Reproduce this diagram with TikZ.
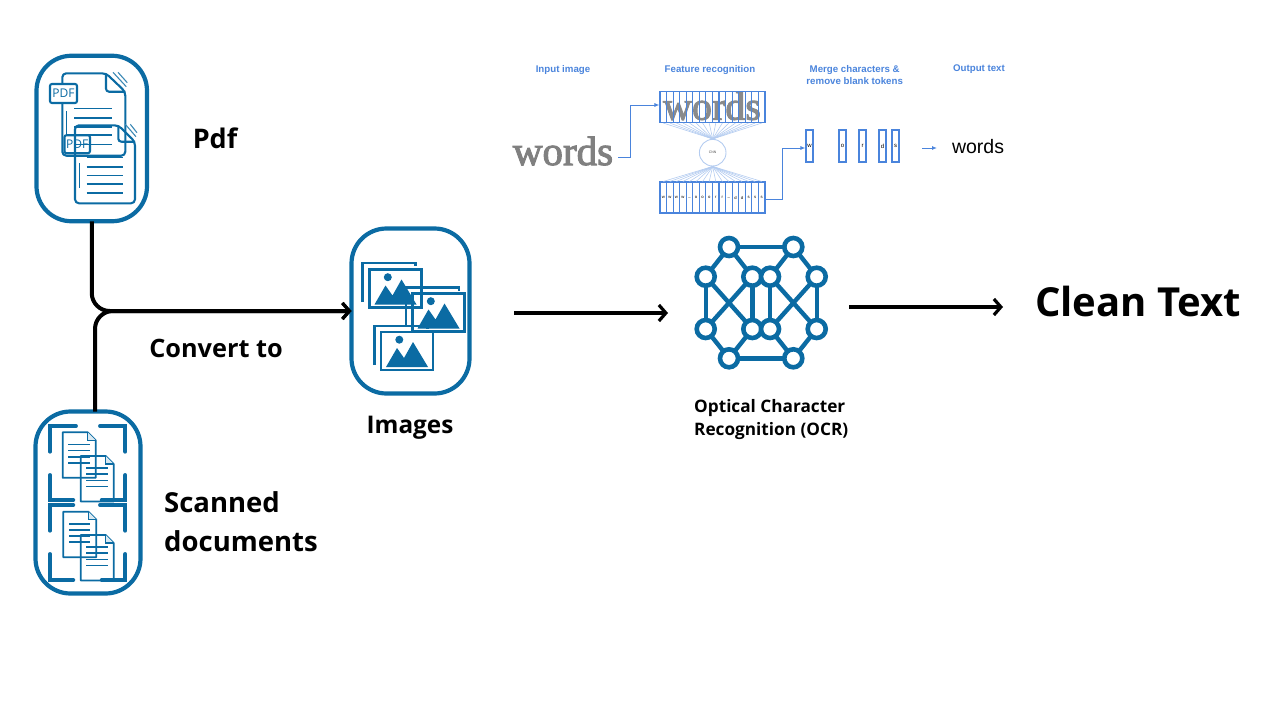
\documentclass[tikz,border=0pt]{standalone}
\usepackage{fontspec}
\setmainfont{Open Sans}
\newfontfamily\arialf{Liberation Sans}
\newfontfamily\blurf[FakeBold=2.4]{Liberation Serif}
\usetikzlibrary{arrows.meta}
\definecolor{iconblue}{HTML}{0B6BA3}
\definecolor{ocrblue}{HTML}{4A84DC}
\definecolor{fanblue}{HTML}{B4CCF0}
\tikzset{
  holder/.style={draw=iconblue,line width=4.2pt,rounded corners=35pt,inner sep=0pt,outer sep=0pt},
  conn/.style={draw=black,line width=4pt,rounded corners=18pt,-{Straight Barb[length=7pt,width=16pt,line width=3.2pt]}},
  thin icon/.style={draw=iconblue,line width=2.1pt,line join=round},
  bracket/.style={draw=iconblue,line width=3.9pt,line cap=round},
  photo/.style={draw=iconblue,line width=2.8pt},
  mesh dot/.style={circle,draw=iconblue,fill=white,line width=4.6pt,minimum size=18pt,inner sep=0pt},
  mesh edge/.style={draw=iconblue,line width=4.4pt},
  lab/.style={font=\bfseries,inner sep=0pt,text=black},
  flowhead/.style={font=\arialf\bfseries\fontsize{9.7}{12}\selectfont,text=ocrblue,inner sep=0pt,align=center},
  cell/.style={draw=ocrblue,line width=1.1pt,inner sep=0pt,minimum width=6.56pt,minimum height=31pt,font=\arialf\fontsize{4.2}{5}\selectfont},
  slot/.style={draw=ocrblue,line width=1.1pt,inner sep=0pt,minimum width=7pt,minimum height=32pt,font=\arialf\fontsize{6}{7}\selectfont},
  flow/.style={draw=ocrblue,line width=.9pt,-{Latex[length=5pt,width=4pt]}},
  fan/.style={draw=fanblue,line width=.6pt},
}
\newcommand{\pdfdoc}[9]{% left top right bottom foldx foldy linesx0 linesx1 tickx
  \draw[thin icon,rounded corners=4pt] (#5,#2) -- (#1,#2) -- (#1,#4) -- (#3,#4) -- (#3,#6) -- cycle;
  \draw[thin icon,rounded corners=3pt] (#5,#2) -- (#5,#6) -- (#3,#6);
  \draw[iconblue!80,line width=1.1pt] (#5+7,#2-1) -- (#3+1,#6-5);
  \draw[iconblue!80,line width=1.1pt] (#5+12,#2-1) -- (#3+2,#6-9);
  \draw[iconblue,line width=1.5pt] (#9,#2+38) -- (#9,#2+63);
}
\newcommand{\scandoc}[2]{%
  \draw[iconblue,line width=1.8pt,line join=round] (#1+25,#2) -- (#1,#2) -- (#1,#2+45.5) -- (#1+33,#2+45.5) -- (#1+33,#2+8) -- cycle;
  \draw[iconblue,line width=1.4pt,fill=iconblue!15] (#1+25,#2) -- (#1+25,#2+8) -- (#1+33,#2+8);
  \foreach \ly in {12,18,24.5,30.5} \draw[iconblue,line width=1.6pt] (#1+5.7,#2+\ly) -- (#1+27,#2+\ly);
}
\newcommand{\photoicon}[4]{%
  \draw[photo] (#3,#4+39) -- (#3,#4) -- (#3+53,#4) -- (#3+53,#4+3);
  \draw[photo] (#1,#2) rectangle (#1+52,#2+38);
  \fill[iconblue] (#1+5,#2+35) -- (#1+16,#2+16) -- (#1+23,#2+26) -- (#1+32,#2+10) -- (#1+47,#2+35) -- cycle;
  \fill[iconblue] (#1+18.3,#2+7.7) circle (4pt);
}
\begin{document}
\begin{tikzpicture}[x=1pt,y=-1pt]
\useasboundingbox (0,0) rectangle (1282,720);

% holders
\node[holder,minimum width=110.5pt,minimum height=165.5pt] (pdfbox) at (91.75,138.5) {};
\node[holder,minimum width=105pt,minimum height=182pt] (scanbox) at (88,502.5) {};
\node[holder,minimum width=118pt,minimum height=165pt] (imgbox) at (410.5,311) {};

% connectors
\draw[conn] (pdfbox.south) |- (imgbox.west);
\draw[conn] ([xshift=7pt]scanbox.north) |- (imgbox.west);
\coordinate (midstart) at (514,313);
\coordinate (midend) at (668,313);
\coordinate (laststart) at (849,307);
\coordinate (lastend) at (1003,307);
\draw[conn] (midstart) -- (midend);
\draw[conn] (laststart) -- (lastend);

% pdf icon
\pdfdoc{62.3}{73.3}{125.3}{155.7}{106}{91.7}{74}{112}{66.7}
\foreach \ly in {108.3,117.7,126.7,135,144.3} \draw[iconblue,line width=1.6pt] (74,\ly) -- (112.3,\ly);
\node[draw=iconblue,fill=white,line width=2.1pt,rounded corners=2pt,minimum width=27pt,minimum height=19pt,inner sep=0pt,text=iconblue,font=\fontsize{12}{14}\selectfont] (pdfa) at (63.5,93.5) {PDF};
\pdfdoc{75}{125.3}{135}{203.3}{118.3}{141.7}{86.7}{123.3}{79.3}
\foreach \ly in {157.3,166.7,175.3,184,192.7} \draw[iconblue,line width=1.6pt] (86.7,\ly) -- (123.3,\ly);
\node[draw=iconblue,line width=2.1pt,rounded corners=2pt,minimum width=25.5pt,minimum height=18pt,inner sep=0pt,text=iconblue,font=\fontsize{12}{14}\selectfont] (pdfb) at (77.2,144.2) {PDF};

% scan icon
\draw[bracket] (50,451.7) -- (50,426) -- (76,426);
\draw[bracket] (100,426) -- (125.3,426) -- (125.3,451.7);
\draw[bracket] (50,475) -- (50,500) -- (73.3,500);
\draw[bracket] (101.7,500) -- (125.3,500) -- (125.3,475);
\draw[bracket] (50,530.7) -- (50,505) -- (73.3,505);
\draw[bracket] (100,505) -- (125.3,505) -- (125.3,530.7);
\draw[bracket] (50,554) -- (50,580) -- (73.3,580);
\draw[bracket] (101.7,580) -- (125.3,580) -- (125.3,554);
\scandoc{62.7}{432.3}
\scandoc{80.7}{456}
\scandoc{63.3}{511.7}
\scandoc{80.7}{535}

% images icon
\photoicon{369.5}{269.5}{362.5}{263}
\photoicon{412.5}{293.5}{406}{287.5}
\photoicon{381}{332}{374.5}{326}

% ocr mesh
\foreach \nm/\px/\py in {ta/729/247,tb/793.3/247,la/705.7/276.7,ia/752.3/276.7,ib/770/276.7,ra/816.7/276.7,lb/705.7/329,ic/752.3/329,id/770/329,rb/816.7/329,ba/729/358.3,bb/793.3/358.3}
  \coordinate (c\nm) at (\px,\py);
\foreach \u/\v in {ta/tb,ta/la,ta/ia,tb/ib,tb/ra,la/lb,ia/ic,ib/id,ra/rb,la/ic,lb/ia,ib/rb,id/ra,lb/ba,ic/ba,id/bb,rb/bb,ba/bb}
  \draw[mesh edge] (c\u) -- (c\v);
\foreach \nm in {ta,tb,la,ia,ib,ra,lb,ic,id,rb,ba,bb}
  \node[mesh dot] (n\nm) at (c\nm) {};

% labels
\node[lab,font=\bfseries\fontsize{27}{32}\selectfont] (lpdf) at (215,138) {Pdf};
\node[lab,font=\bfseries\fontsize{27.5}{39}\selectfont,align=left,anchor=west] (lscan) at (164,521.5) {Scanned\\documents};
\node[lab,font=\bfseries\fontsize{25.3}{30}\selectfont] (lconv) at (216,348) {Convert to};
\node[lab,font=\bfseries\fontsize{24.3}{30}\selectfont] (limg) at (410,427.5) {Images};
\node[lab,font=\bfseries\fontsize{17.2}{23}\selectfont,align=left,anchor=west] (locr) at (694,419.5) {Optical Character\\Recognition (OCR)};
\node[lab,font=\bfseries\fontsize{40}{46}\selectfont] (lclean) at (1138,301) {Clean Text};

% CTC flow
\node[flowhead] (h1) at (563,70.5) {Input image};
\node[flowhead] (h2) at (710,70.5) {Feature recognition};
\node[flowhead] (h3) at (854.7,75) {Merge characters \&\\remove blank tokens};
\node[flowhead] (h4) at (979,69) {Output text};

\node[inner sep=0pt,text=black!50,font=\blurf\fontsize{41}{44}\selectfont] (wordsin) at (563,151) {words};
\node[inner sep=0pt,text=black!46,font=\blurf\fontsize{40}{44}\selectfont] (wordsfeat) at (712,106) {words};

\node[circle,draw=fanblue,line width=.9pt,minimum size=26.6pt,inner sep=0pt,font=\arialf\fontsize{3.5}{4}\selectfont,text=black!70] (cnn) at (712.7,152.7) {CNN};

\foreach \i [evaluate=\i as \cx using 660+(\i-.5)*6.56] in {1,...,16}{
  \node[cell,fill=none] (f\i) at (\cx,107) {};
  \draw[fan] (f\i.south) -- (cnn.north);
}
\foreach \i/\ch [evaluate=\i as \cx using 660+(\i-.5)*6.56] in {1/w,2/w,3/w,4/w,5/\_,6/o,7/o,8/o,9/r,10/r,11/\_,12/d,13/d,14/s,15/s,16/s}{
  \node[cell] (g\i) at (\cx,197.5) {\ch};
  \draw[fan] (g\i.north) -- (cnn.south);
}
\coordinate (inout) at ([xshift=5pt]wordsin.east |- 0,157);
\draw[flow] (inout) -- ++(12,0) |- ([yshift=2pt]f1.west);

\foreach \nm/\cx/\ch in {sw/809.5/w,so/842.5/o,sr/862.5/r,sd/882.5/d,ss/895.5/s}
  \node[slot] (\nm) at (\cx,146) {\ch};
\draw[flow] ([yshift=-1.5pt]g16.east) -- ++(17,0) |- ([yshift=-2pt]sw.west);

\node[inner sep=0pt,font=\arialf\fontsize{19.5}{22}\selectfont] (wordsout) at (978,147) {words};
\coordinate (outa) at (922,148);
\coordinate (outb) at (937,148);
\draw[flow] (outa) -- (outb);
\end{tikzpicture}
\end{document}
